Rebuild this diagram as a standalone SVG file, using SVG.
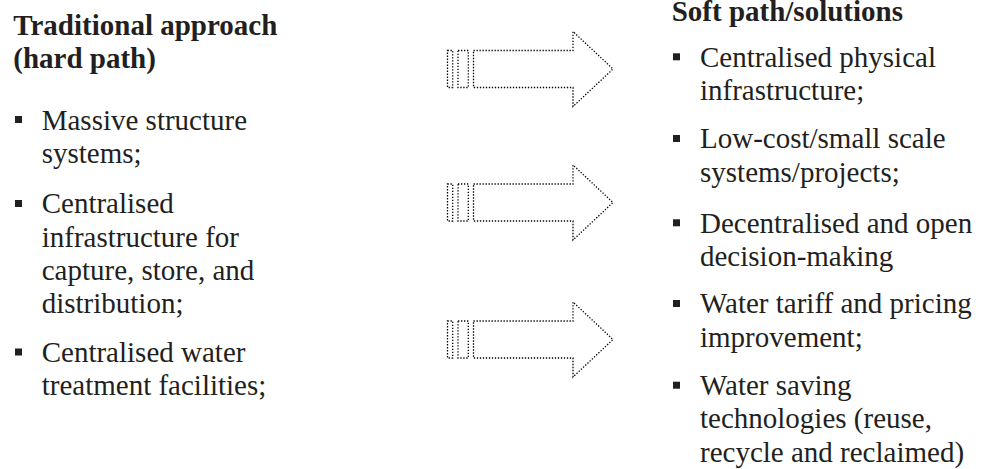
<svg xmlns="http://www.w3.org/2000/svg" xmlns:xlink="http://www.w3.org/1999/xlink" width="984" height="469" viewBox="0 0 984 469">
<style>
  text { font-family: "Liberation Serif", "Times New Roman", serif; font-size: 29px; fill: #231f20; }
  .h { font-weight: bold; }
  .b { fill: #231f20; }
  .dot { fill: none; stroke: #000; stroke-width: 1.3; stroke-dasharray: 1.3 1.7; }
</style>
<defs>
  <g id="arrow">
    <rect class="dot" x="447.5" y="-18.5" width="5.2" height="37"/>
    <rect class="dot" x="458" y="-18.5" width="10.3" height="37"/>
    <path class="dot" d="M473.5,-18.5 H573 V-37.5 L613,0 L573,37.5 V18.5 H473.5 Z"/>
  </g>
</defs>
<rect width="984" height="469" fill="#fff"/>
<g id="traditional">
  <text class="h" x="13.3" y="34.5">Traditional approach</text>
  <text class="h" x="13.3" y="68">(hard path)</text>
  <rect class="b" x="15" y="116" width="7" height="7"/>
  <text x="41.7" y="129.5">Massive structure</text>
  <text x="41.7" y="163">systems;</text>
  <rect class="b" x="15" y="200" width="7" height="7"/>
  <text x="41.7" y="213.3">Centralised</text>
  <text x="41.7" y="246.6">infrastructure for</text>
  <text x="41.7" y="280">capture, store, and</text>
  <text x="41.7" y="313.3">distribution;</text>
  <rect class="b" x="15" y="348.5" width="7" height="7"/>
  <text x="41.7" y="362">Centralised water</text>
  <text x="41.7" y="395.3">treatment facilities;</text>
</g>
<g id="connectors">
  <use xlink:href="#arrow" transform="translate(0,69)"/>
  <use xlink:href="#arrow" transform="translate(0,202.5)"/>
  <use xlink:href="#arrow" transform="translate(0,339.5)"/>
</g>
<g id="soft">
  <text class="h" x="671.7" y="20.5">Soft path/solutions</text>
  <rect class="b" x="673" y="53.3" width="7" height="7"/>
  <text x="700" y="66.7">Centralised physical</text>
  <text x="700" y="100">infrastructure;</text>
  <rect class="b" x="673" y="135" width="7" height="7"/>
  <text x="700" y="148.3">Low-cost/small scale</text>
  <text x="700" y="181.7">systems/projects;</text>
  <rect class="b" x="673" y="219.3" width="7" height="7"/>
  <text x="700" y="232.7">Decentralised and open</text>
  <text x="700" y="266">decision-making</text>
  <rect class="b" x="673" y="300" width="7" height="7"/>
  <text x="700" y="313.3">Water tariff and pricing</text>
  <text x="700" y="346.7">improvement;</text>
  <rect class="b" x="673" y="381.7" width="7" height="7"/>
  <text x="700" y="395">Water saving</text>
  <text x="700" y="428.3">technologies (reuse,</text>
  <text x="700" y="461.6">recycle and reclaimed)</text>
</g>
</svg>
